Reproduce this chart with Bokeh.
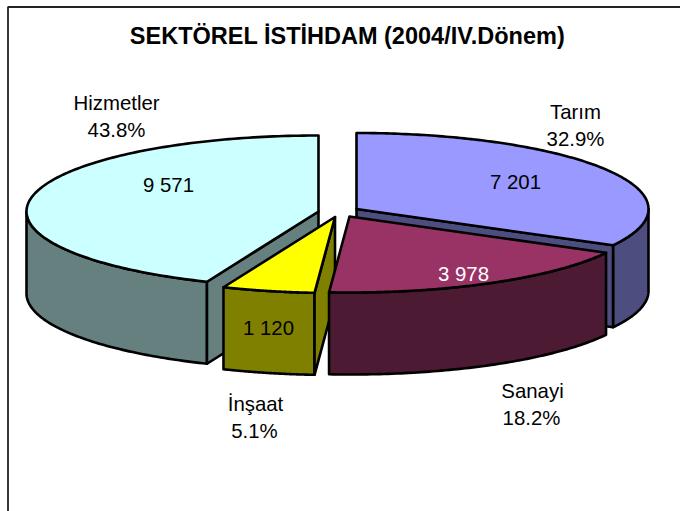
import numpy as np
from bokeh.plotting import figure
from bokeh.models import Range1d
from bokeh.core.properties import value
from bokeh.embed import file_html
from bokeh.resources import INLINE

title_text = "SEKTÖREL İSTİHDAM (2004/IV.Dönem)"
sectors = ["Tarım", "Sanayi", "İnşaat", "Hizmetler"]
employment = [7201, 3978, 1120, 9571]
employment_labels = ["7 201", "3 978", "1 120", "9 571"]
share_labels = ["32.9%", "18.2%", "5.1%", "43.8%"]
top_colors = ["#9999FF", "#993366", "#FFFF00", "#CCFFFF"]
side_colors = ["#4D4D80", "#4D1A33", "#808000", "#668080"]
value_colors = ["#000000", "#FFFFFF", "#000000", "#000000"]

# layout (page pixels)
W, H = 680, 511
RX, RY, DEPTH = 292.0, 76.0, 82.0
centers = [(356.0, 208.5), (349.0, 216.0), (334.5, 216.5), (318.0, 211.0)]
value_pos = [(515, 181), (463, 273), (268, 327), (168, 184)]
name_pos = [(575, 111), (532, 390), (255, 403), (116, 102)]
pct_pos = [(575, 138), (531, 417), (254, 430), (116, 129)]

p = figure(width=W, height=H, x_range=Range1d(0, W), y_range=Range1d(H, 0),
           output_backend="svg", toolbar_location=None, min_border=0,
           margin=0, outline_line_color=None)
p.xaxis.visible = False
p.yaxis.visible = False
p.xgrid.visible = False
p.ygrid.visible = False


def pt(c, a):
    return c[0] + RX * np.sin(a), c[1] - RY * np.cos(a)


def shape(xs, ys, color):
    p.patch(list(xs), list(ys), fill_color=color, line_color="#000000",
            line_width=2.6, line_join="round")


fr = np.cumsum([0] + employment) / sum(employment) * 2 * np.pi
starts, ends = fr[:-1], fr[1:]


def draw_slice(i):
    c = centers[i]
    a0, a1 = starts[i], ends[i]
    # outer wall: only the near half of the rim
    w0, w1 = max(a0, np.pi / 2), min(a1, 3 * np.pi / 2)
    if w1 > w0:
        x, y = pt(c, np.linspace(w0, w1, 80))
        shape(np.r_[x, x[::-1]], np.r_[y, y[::-1] + DEPTH], side_colors[i])
    # visible radial cut faces
    if i != 1:
        a = a1 if i == 0 else a0
        ex, ey = pt(c, a)
        shape([c[0], ex, ex, c[0]], [c[1], ey, ey + DEPTH, c[1] + DEPTH], side_colors[i])
    # top
    x, y = pt(c, np.linspace(a0, a1, 160))
    shape(np.r_[c[0], x], np.r_[c[1], y], top_colors[i])


for i in [3, 0, 2, 1]:
    draw_slice(i)

font = value("Liberation Sans")
SIZE = "20.4px"
for pos, txt, col in [(value_pos, employment_labels, value_colors),
                      (name_pos, sectors, ["#000000"] * 4),
                      (pct_pos, share_labels, ["#000000"] * 4)]:
    p.text(x=[x for x, _ in pos], y=[y for _, y in pos], text=txt,
           text_color=col, text_font=font, text_font_size=SIZE,
           text_align="center", text_baseline="middle")
p.text(x=[347], y=[35], text=[title_text], text_color="#000000", text_font=font,
       text_font_size="23.5px", text_font_style="bold",
       text_align="center", text_baseline="middle")

# chart frame
p.line([7.5, 7.5, 685], [515, 6.5, 6.5], line_color="#222222", line_width=1.8)

open("out.html", "w").write(file_html(p, INLINE))
